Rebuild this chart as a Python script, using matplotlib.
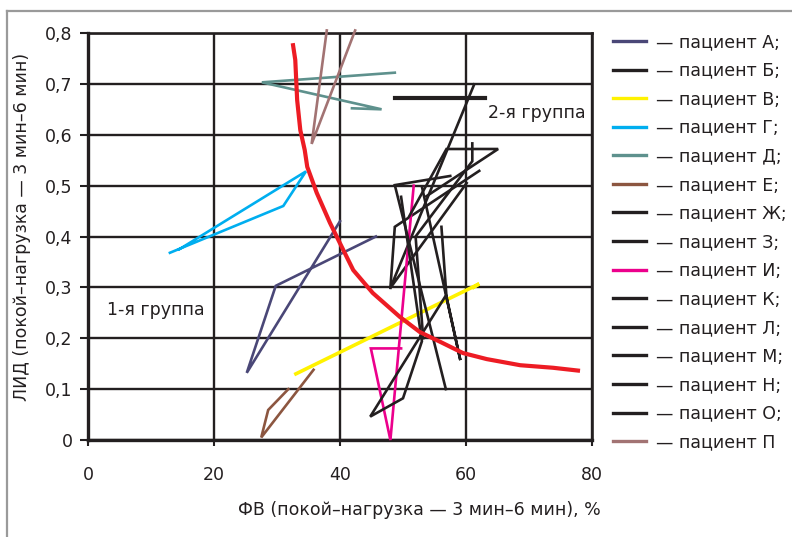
import matplotlib
matplotlib.use('Agg')
import matplotlib.pyplot as plt
from matplotlib.lines import Line2D

plt.rcParams['font.family'] = ['DejaVu Sans']

# ---------------- data (ФВ, %; ЛИД) ----------------
A_fv  = [40.0, 25.2, 29.8, 45.7]
A_lid = [0.43, 0.132, 0.303, 0.40]
B_fv  = [63.0, 48.7]
B_lid = [0.672, 0.672]
V_fv  = [33.0, 62.1, 61.2]
V_lid = [0.13, 0.307, 0.300]
G_fv  = [13.0, 31.0, 34.6, 14.5]
G_lid = [0.368, 0.46, 0.528, 0.375]
D_fv  = [48.7, 27.6, 46.6, 41.9]
D_lid = [0.722, 0.703, 0.65, 0.652]
E_fv  = [35.8, 27.5, 28.6, 31.8]
E_lid = [0.138, 0.005, 0.059, 0.10]
Zh_fv  = [61.3, 48.0, 60.1]
Zh_lid = [0.699, 0.299, 0.505]
Z_fv  = [62.1, 48.7, 48.0]
Z_lid = [0.529, 0.419, 0.299]
I_fv  = [51.7, 48.0, 44.9, 49.7]
I_lid = [0.50, 0.0, 0.18, 0.18]
K_fv  = [53.7, 65.1, 56.9, 51.0]
K_lid = [0.479, 0.572, 0.572, 0.44]
L_fv  = [61.0, 61.0, 52.0, 53.2]
L_lid = [0.583, 0.548, 0.40, 0.20]
M_fv  = [57.5, 48.7, 56.8]
M_lid = [0.519, 0.501, 0.10]
N_fv  = [49.7, 53.0, 50.0, 44.8, 56.7]
N_lid = [0.478, 0.194, 0.082, 0.046, 0.282]
O_fv  = [53.0, 59.1, 56.9, 56.1]
O_lid = [0.498, 0.157, 0.282, 0.419]
P_fv  = [37.9, 35.5, 42.4]
P_lid = [0.805, 0.582, 0.805]

trend_fv  = [32.5, 32.9, 33.2, 33.7, 34.4, 34.8, 36.3, 38.4, 40.5, 42.1, 45.2,
             49.5, 52.7, 55.9, 59.5, 63.3, 68.6, 73.8, 78.1]
trend_lid = [0.780, 0.747, 0.668, 0.609, 0.570, 0.537, 0.486, 0.427, 0.374, 0.334,
             0.289, 0.242, 0.212, 0.193, 0.171, 0.159, 0.147, 0.142, 0.136]

letters = ['А;', 'Б;', 'В;', 'Г;', 'Д;', 'Е;', 'Ж;', 'З;', 'И;', 'К;', 'Л;', 'М;', 'Н;', 'О;', 'П']
colors  = ['#4a4777', '#231f20', '#fff200', '#00aeef', '#5e918d', '#8c5640', '#231f20',
           '#231f20', '#ec008c', '#231f20', '#231f20', '#231f20', '#231f20', '#231f20', '#a27373']
xs = [A_fv, B_fv, V_fv, G_fv, D_fv, E_fv, Zh_fv, Z_fv, I_fv, K_fv, L_fv, M_fv, N_fv, O_fv, P_fv]
ys = [A_lid, B_lid, V_lid, G_lid, D_lid, E_lid, Zh_lid, Z_lid, I_lid, K_lid, L_lid, M_lid, N_lid, O_lid, P_lid]

x_ticks = [0, 20, 40, 60, 80]
y_ticks = [0, 0.1, 0.2, 0.3, 0.4, 0.5, 0.6, 0.7, 0.8]
y_tick_labels = ['0', '0,1', '0,2', '0,3', '0,4', '0,5', '0,6', '0,7', '0,8']

# ---------------- figure ----------------
W, H = 792, 537
fig = plt.figure(figsize=(W / 100, H / 100), dpi=100)
ax = fig.add_axes([88 / W, 1 - 440 / H, 504 / W, 407 / H])

ink = '#231f20'
fs = 12.5

handles = []
for x, y, c, lt in zip(xs, ys, colors, letters):
    if lt == 'Б;':
        lw = 3.0
    elif lt == 'В;':
        lw = 2.6
    else:
        lw = 1.9
    ax.plot(x, y, color=c, lw=lw, solid_joinstyle='miter', clip_on=False, zorder=3)
    handles.append(Line2D([0], [0], color=c, lw=2.4))

ax.plot(trend_fv, trend_lid, color='#ed1c24', lw=3.0, zorder=4, solid_capstyle='butt')

ax.set_xlim(0, 80)
ax.set_ylim(0, 0.8)
ax.set_xticks(x_ticks)
ax.set_yticks(y_ticks)
ax.set_yticklabels(y_tick_labels)
ax.grid(True, color=ink, lw=1.7)
ax.set_axisbelow(True)
for s in ax.spines.values():
    s.set_color(ink)
    s.set_linewidth(1.9)
ax.spines['left'].set_linewidth(2.4)
ax.spines['bottom'].set_linewidth(2.4)
ax.tick_params(axis='y', length=6, width=1.5, color=ink, pad=5, labelsize=fs, labelcolor=ink)
ax.tick_params(axis='x', length=4, width=1.5, color=ink, pad=15, labelsize=fs, labelcolor=ink)

ax.set_xlabel('ФВ (покой–нагрузка — 3 мин–6 мин), %', fontsize=fs, color=ink, ha='right', va='center')
ax.xaxis.set_label_coords((601 - 88) / 504, (440 - 510) / 407)
ax.set_ylabel('ЛИД (покой–нагрузка — 3 мин–6 мин)', fontsize=fs, color=ink, ha='center', va='center')
ax.yaxis.set_label_coords((22 - 88) / 504, (440 - 227) / 407)

ax.text(3.0, 0.255, '1-я группа', fontsize=fs, color=ink, va='center', ha='left')
ax.text(63.5, 0.643, '2-я группа', fontsize=fs, color=ink, va='center', ha='left')

fig.legend(handles, ['— пациент ' + l for l in letters], loc='upper left',
           bbox_to_anchor=(613 / W, 1 - 33 / H), frameon=False, fontsize=fs,
           handlelength=1.9, handletextpad=0.55, labelspacing=0.61,
           borderaxespad=0, borderpad=0, labelcolor=ink)

# partial outer frame (top and left edges)
fig.add_artist(Line2D([6.5 / W, 1], [1 - 10.5 / H, 1 - 10.5 / H], transform=fig.transFigure,
                      color='#9a9a9a', lw=1.6))
fig.add_artist(Line2D([6.5 / W, 6.5 / W], [0, 1 - 10.5 / H], transform=fig.transFigure,
                      color='#9a9a9a', lw=1.6))

fig.savefig('out.png', dpi=100)
